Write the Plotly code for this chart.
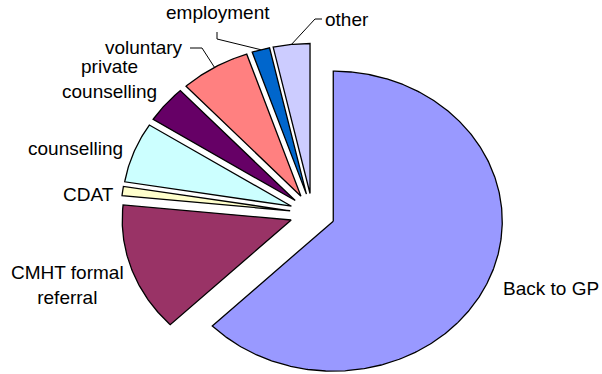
import numpy as np
import plotly.graph_objects as go

# Share of cases by destination (percent), clockwise from 12 o'clock
categories = ["Back to GP", "CMHT formal referral", "CDAT", "counselling",
              "private counselling", "voluntary", "employment", "other"]
values = [62.7, 13.9, 1.0, 6.5, 4.0, 6.7, 1.7, 3.5]

# Excel-style default pie palette
colors = ["#9999FF", "#993366", "#FFFFCC", "#CCFFFF",
          "#660066", "#FF8080", "#0066CC", "#CCCCFF"]

# Pie geometry in page pixels (axes are mapped 1:1 onto the page)
W, H = 602, 374
CX, CY = 312.5, 213.4      # pie centre
RX, RY = 169.0, 150.0      # horizontal / vertical radius
PULL = 20.0                # explosion distance (in vertical-radius units)
SX = RX / RY

# Label placement: text centre, text lines, optional leader elbow
label_style = {
    "Back to GP": dict(pos=(551, 288), text="Back to GP"),
    "CMHT formal referral": dict(pos=(67.5, 285), text="CMHT formal<br>referral"),
    "CDAT": dict(pos=(88, 194), text="CDAT"),
    "counselling": dict(pos=(75.5, 148), text="counselling"),
    "private counselling": dict(pos=(109, 79), text="private<br>counselling"),
    "voluntary": dict(pos=(144, 47), text="voluntary", leader=[(190, 48), (202, 48)]),
    "employment": dict(pos=(218, 12), text="employment", leader=[(217, 32), (217, 39)]),
    "other": dict(pos=(347, 19), text="other", leader=[(322, 19), (315, 19)]),
}

fig = go.Figure()

total = float(sum(values))
start = 0.0
for name, val, col in zip(categories, values, colors):
    sweep = 360.0 * val / total
    a0, a1 = start, start + sweep
    mid = np.radians((a0 + a1) / 2)
    ox = PULL * SX * np.sin(mid)
    oy = -PULL * np.cos(mid)
    tx, ty = CX + ox, CY + oy
    th = np.radians(np.linspace(a0, a1, max(int(sweep * 2), 4)))
    xs = np.concatenate([[tx], tx + RX * np.sin(th), [tx]])
    ys = np.concatenate([[ty], ty - RY * np.cos(th), [ty]])
    fig.add_trace(go.Scatter(
        x=xs, y=ys, mode="lines", fill="toself", fillcolor=col,
        line=dict(color="black", width=1.3), hoverinfo="text", text=name,
        showlegend=False,
    ))

    style = label_style[name]
    if "leader" in style:
        ex = tx + RX * np.sin(mid)
        ey = ty - RY * np.cos(mid)
        pts = style["leader"] + [(ex, ey)]
        fig.add_trace(go.Scatter(
            x=[p[0] for p in pts], y=[p[1] for p in pts], mode="lines",
            line=dict(color="black", width=1), hoverinfo="skip", showlegend=False,
        ))
    fig.add_annotation(
        x=style["pos"][0], y=style["pos"][1], text=style["text"],
        showarrow=False, xanchor="center", yanchor="middle", align="center",
        font=dict(family="Liberation Sans, Arial, sans-serif", size=19, color="black"),
    )
    start = a1

fig.update_layout(
    width=W, height=H,
    margin=dict(l=0, r=0, t=0, b=0),
    paper_bgcolor="white", plot_bgcolor="white",
    xaxis=dict(range=[0, W], visible=False, fixedrange=True),
    yaxis=dict(range=[H, 0], visible=False, fixedrange=True),
)

fig.write_html("out.html")
